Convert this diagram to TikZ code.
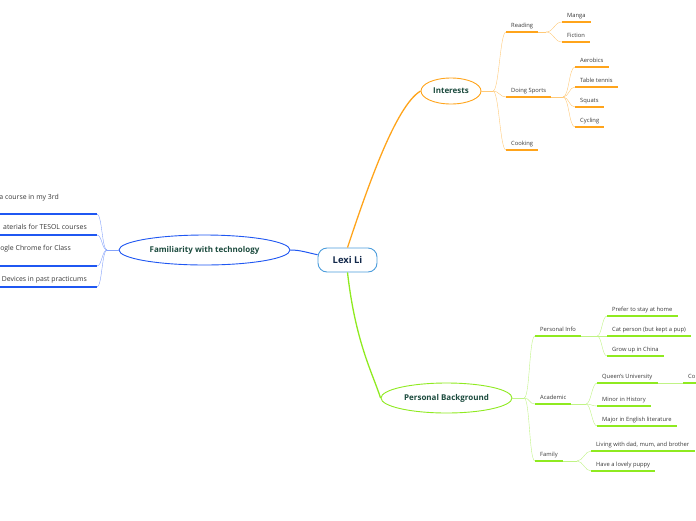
\documentclass[tikz,border=0pt]{standalone}
\usepackage{fontspec}
\setmainfont{Open Sans}
\usetikzlibrary{shapes.geometric}

\definecolor{orangeline}{HTML}{FFA41B}
\definecolor{orangethin}{HTML}{FFC978}
\definecolor{blueline}{HTML}{1F57F2}
\definecolor{bluethin}{HTML}{84A2FA}
\definecolor{greenline}{HTML}{8FEA20}
\definecolor{greenthin}{HTML}{C0F385}
\definecolor{lexiblue}{HTML}{4C9DDC}
\definecolor{topictext}{HTML}{1C4B3E}
\definecolor{lexitext}{HTML}{12284A}
\definecolor{leaftext}{HTML}{383838}

\tikzset{
  topic/.style={ellipse, draw, line width=0.9pt, fill=white, text=topictext,
    font=\fontsize{8}{9}\selectfont\bfseries, inner sep=0pt},
  leaf/.style={anchor=south west, inner xsep=5pt, inner ysep=2.9pt, text depth=1.5pt,
    text=leaftext, font=\fontsize{5.8}{6.8}\selectfont},
  techleaf/.style={leaf, anchor=base east, inner xsep=0pt, font=\fontsize{6.9}{8}\selectfont},
  uline/.style={line width=1.3pt},
  twig/.style={line width=0.5pt},
  branch/.style={twig, to path={.. controls +(#1,0) and +(-#1,0) .. (\tikztotarget) \tikztonodes}},
  branch/.default=6
}

\begin{document}
\begin{tikzpicture}[x=1pt,y=-1pt]
\useasboundingbox (0,0) rectangle (696,520);

% centre and main topics
\node[draw=lexiblue, line width=0.9pt, rounded corners=9pt, minimum width=59pt, minimum height=24pt,
  fill=white, text=lexitext, font=\fontsize{9.4}{11}\selectfont\bfseries] (lexi) at (347.5,260) {Lexi Li};
\node[topic, draw=orangeline, minimum width=60pt, minimum height=26pt] (int) at (451,91) {Interests};
\node[topic, draw=blueline, minimum width=171pt, minimum height=30pt] (tech) at (204.5,250) {Familiarity with technology};
\node[topic, draw=greenline, minimum width=131pt, minimum height=30pt] (pb) at (446.5,398) {Personal Background};

% main connectors
\draw[orangeline, line width=1.3pt] (lexi.north) .. controls +(20,-60) and +(-25,15) .. (int.west);
\draw[greenline, line width=1.3pt] (lexi.south) .. controls +(8,70) and +(-8,-25) .. (pb.west);
\draw[blueline, line width=1pt] (lexi.170) .. controls +(-10,-2) and +(10,0) .. (tech.east);

% Interests
\node[leaf] (reading) at (506,32) {Reading};
\node[leaf] (sports) at (506,97) {Doing Sports};
\node[leaf] (cooking) at (506,150) {Cooking};
\node[leaf] (manga) at (562,22) {Manga};
\node[leaf] (fiction) at (562,42) {Fiction};
\node[leaf] (aerobics) at (575,67) {Aerobics};
\node[leaf] (tennis) at (575,87) {Table tennis};
\node[leaf] (squats) at (575,107) {Squats};
\node[leaf] (cycling) at (575,127) {Cycling};
\coordinate (int-j) at (493,91);
\coordinate (read-j) at (546,32);
\coordinate (sport-j) at (563,97);

\draw[orangethin, twig] (int.east) -- (int-j);
\draw[orangethin] (int-j) to[branch] (reading.south west);
\draw[orangethin] (int-j) to[branch] (sports.south west);
\draw[orangethin] (int-j) to[branch] (cooking.south west);
\draw[orangethin, twig] (reading.south east) -- (read-j);
\draw[orangethin] (read-j) to[branch=8] (manga.south west);
\draw[orangethin] (read-j) to[branch=8] (fiction.south west);
\draw[orangethin, twig] (sports.south east) -- (sport-j);
\foreach \n in {aerobics,tennis,squats,cycling}
  \draw[orangethin] (sport-j) to[branch] (\n.south west);
\foreach \n in {reading,sports,cooking,manga,fiction,aerobics,tennis,squats,cycling}
  \draw[orangeline, uline] (\n.south west) -- (\n.south east);

% Familiarity with technology
\node[techleaf] (tech1) at (59,199.5) {a course in my 3rd};
\node[techleaf] (tech2) at (87,229.5) {aterials for TESOL courses};
\node[techleaf] (tech3) at (71,250.5) {ogle Chrome for Class};
\node[techleaf] (tech4) at (87,281.5) {Devices in past practicums};
\coordinate (tech-j) at (107,250);
\coordinate (tech1-w) at (-4,214);  \coordinate (tech1-e) at (97,214);
\coordinate (tech2-w) at (-4,235);  \coordinate (tech2-e) at (97,235);
\coordinate (tech3-w) at (-4,266);  \coordinate (tech3-e) at (97,266);
\coordinate (tech4-w) at (-4,287);  \coordinate (tech4-e) at (97,287);

\draw[bluethin, twig] (tech.west) -- (tech-j);
\foreach \n in {1,...,4}{
  \draw[bluethin] (tech\n-e) to[branch=5] (tech-j);
  \draw[blueline, uline] (tech\n-w) -- (tech\n-e);
}

% Personal Background
\node[leaf] (pinfo) at (535,336) {Personal Info};
\node[leaf] (acad) at (535,404) {Academic};
\node[leaf] (family) at (535,461) {Family};
\node[leaf] (home) at (607,316) {Prefer to stay at home};
\node[leaf] (cat) at (607,336) {Cat person (but kept a pup)};
\node[leaf] (china) at (607,356) {Grow up in China};
\node[leaf] (queens) at (597,383) {Queen's University};
\node[leaf] (co) at (683,383) {Co};
\node[leaf] (minor) at (597,406) {Minor in History};
\node[leaf] (major) at (597,426) {Major in English literature};
\node[leaf] (living) at (591,451) {Living with dad, mum, and brother};
\node[leaf] (puppy) at (591,471) {Have a lovely puppy};
\coordinate (pb-j) at (524,398);
\coordinate (pinfo-j) at (597,336);
\coordinate (acad-j) at (586,404);
\coordinate (fam-j) at (577,461);

\draw[greenthin, twig] (pb.east) -- (pb-j);
\foreach \n in {pinfo,acad,family}
  \draw[greenthin] (pb-j) to[branch] (\n.south west);
\draw[greenthin, twig] (pinfo.south east) -- (pinfo-j);
\foreach \n in {home,cat,china}
  \draw[greenthin] (pinfo-j) to[branch=5] (\n.south west);
\draw[greenthin, twig] (acad.south east) -- (acad-j);
\foreach \n in {queens,minor,major}
  \draw[greenthin] (acad-j) to[branch=5] (\n.south west);
\draw[greenthin, twig] (queens.south east) -- (co.south west);
\draw[greenthin, twig] (family.south east) -- (fam-j);
\foreach \n in {living,puppy}
  \draw[greenthin] (fam-j) to[branch=6] (\n.south west);
\foreach \n in {pinfo,acad,family,home,cat,china,queens,co,minor,major,living,puppy}
  \draw[greenline, uline] (\n.south west) -- (\n.south east);
\end{tikzpicture}
\end{document}
